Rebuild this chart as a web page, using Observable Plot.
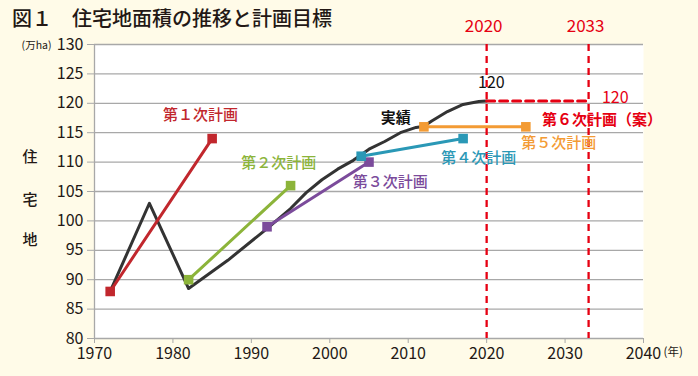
<!DOCTYPE html>
<html><head><meta charset="utf-8">
<script src="https://cdn.jsdelivr.net/npm/d3@7"></script>
<script src="https://cdn.jsdelivr.net/npm/@observablehq/plot@0.6"></script>
<style>
body{margin:0;background:#fffbe8;}
#wrap{position:relative;width:698px;height:376px;font-family:"Noto Sans CJK JP",sans-serif;}
#title{position:absolute;left:12px;top:3px;font-size:20px;font-weight:500;color:#231815;white-space:nowrap;}
svg{position:absolute;left:0;top:0;}
</style></head><body><div id="wrap"></div>
<script>
// ---- data ----
const xTicks = [1970, 1980, 1990, 2000, 2010, 2020, 2030, 2040];
const yTicks = [80, 85, 90, 95, 100, 105, 110, 115, 120, 125, 130];

const actualYears  = [1972, 1977, 1982, 1987, 1992, 1995, 1997, 1999, 2001, 2003, 2005, 2007, 2009, 2011, 2012, 2013, 2015, 2017, 2019, 2020];
const actualValues = [88, 103, 88.5, 93.3, 98.7, 102.1, 104.8, 107, 108.8, 110.3, 112.2, 113.5, 115, 115.9, 116.1, 117, 118.6, 119.8, 120.3, 120.4];

const planNames  = ["第１次計画", "第２次計画", "第３次計画", "第４次計画", "第５次計画"];
const planStart  = [1972, 1982, 1992, 2004, 2012];
const planEnd    = [1985, 1995, 2005, 2017, 2025];
const planFrom   = [88, 90, 99, 111, 116];
const planTo     = [114, 106, 110, 114, 116];
const planColors = ["#c1272d", "#8cb43a", "#7b4b9b", "#2a98b6", "#f39b34"];

const plan6Name  = "第６次計画（案）";
const plan6Years = [2020, 2033];
const plan6Value = 120.4;
const targetLabels = ["2020", "2033"];

// ---- tables ----
const actual = actualYears.map((y, i) => ({year: y, value: actualValues[i]}));
const plans = planNames.map((n, i) => [
  {plan: i, year: planStart[i], value: planFrom[i]},
  {plan: i, year: planEnd[i], value: planTo[i]}
]);
const plan6 = plan6Years.map(y => ({year: y, value: plan6Value}));

const red = "#e60012";
const font = "Noto Sans CJK JP";

const marks = [
  Plot.frame({fill: "white", stroke: null}),
  Plot.ruleY(yTicks, {stroke: "#a8a8a8", strokeWidth: 1.3}),
  Plot.ruleX([1970], {stroke: "#a8a8a8", strokeWidth: 1.3}),
  Plot.axisY({ticks: yTicks, tickSize: 7, tickPadding: 4, stroke: "#a8a8a8", fill: "#231815", label: null, fontSize: 16}),
  Plot.axisX({ticks: xTicks, tickSize: 5, tickPadding: 4, stroke: "#a8a8a8", fill: "#231815", label: null, fontSize: 16, tickFormat: d => String(d)}),
  // target year vertical dashed lines
  Plot.ruleX(plan6Years, {stroke: red, strokeWidth: 2.3, strokeDasharray: "7,5"}),
  // actual
  Plot.line(actual, {x: "year", y: "value", stroke: "#333333", strokeWidth: 3}),
  // plan 6 dashed
  Plot.line(plan6, {x: "year", y: "value", stroke: red, strokeWidth: 3, strokeDasharray: "8,5"}),
];
plans.forEach((p, i) => {
  marks.push(Plot.line(p, {x: "year", y: "value", stroke: planColors[i], strokeWidth: 3}));
  marks.push(Plot.dot(p, {x: "year", y: "value", symbol: "square", r: 5.4, fill: planColors[i], stroke: null}));
});

// plan labels
const labelPos = [[1983.5, 117.9], [1993.5, 109.8], [2007.7, 106.5], [2019.0, 110.6], [2029.2, 113.3]];
planNames.forEach((n, i) => {
  marks.push(Plot.text([n], {x: labelPos[i][0], y: labelPos[i][1], text: d => d, fill: planColors[i], fontSize: 15, fontWeight: 500, fontFamily: font}));
});
marks.push(
  Plot.text([plan6Name], {x: 2034.7, y: 117.2, text: d => d, fill: red, fontSize: 15, fontWeight: "bold", fontFamily: font}),
  Plot.text([String(Math.round(plan6Value))], {x: 2034.7, y: 121.0, text: d => d, textAnchor: "start", fill: red, fontSize: 16, fontFamily: font}),
  Plot.text([String(Math.round(actualValues[actualValues.length - 1]))], {x: 2020.6, y: 123.5, text: d => d, fill: "#111", fontSize: 16, fontFamily: font}),
  Plot.text(["実績"], {x: 2008.4, y: 117.5, text: d => d, fill: "#111", fontSize: 15, fontWeight: "bold", fontFamily: font}),
  Plot.text(targetLabels, {x: (d, i) => plan6Years[i], y: 133, dx: -3, text: d => d, fill: red, fontSize: 17, fontFamily: font}),
  Plot.text(["(万ha)"], {frameAnchor: "left", y: 130, dx: -43, dy: 1, textAnchor: "end", text: d => d, fill: "#231815", fontSize: 10.5, fontFamily: font}),
  Plot.text(["(年)"], {frameAnchor: "bottom-right", dx: 20, dy: 17, textAnchor: "start", text: d => d, fill: "#231815", fontSize: 11.5, fontFamily: font}),
  Plot.text(["住", "宅", "地"], {frameAnchor: "left", y: (d, i) => [110.8, 103.5, 96.7][i], dx: -72, text: d => d, fill: "#231815", fontSize: 15, fontWeight: 500, fontFamily: font})
);

const chart = Plot.plot({
  width: 698, height: 376,
  marginLeft: 94, marginRight: 55, marginTop: 44, marginBottom: 38,
  style: {background: "transparent", fontFamily: font, color: "#231815"},
  x: {domain: [1970, 2040]},
  y: {domain: [80, 130]},
  marks
});
const wrap = document.getElementById("wrap");
wrap.appendChild(chart);
const t = document.createElement("div");
t.id = "title";
t.textContent = "図１　住宅地面積の推移と計画目標";
wrap.appendChild(t);
</script>
</body></html>
